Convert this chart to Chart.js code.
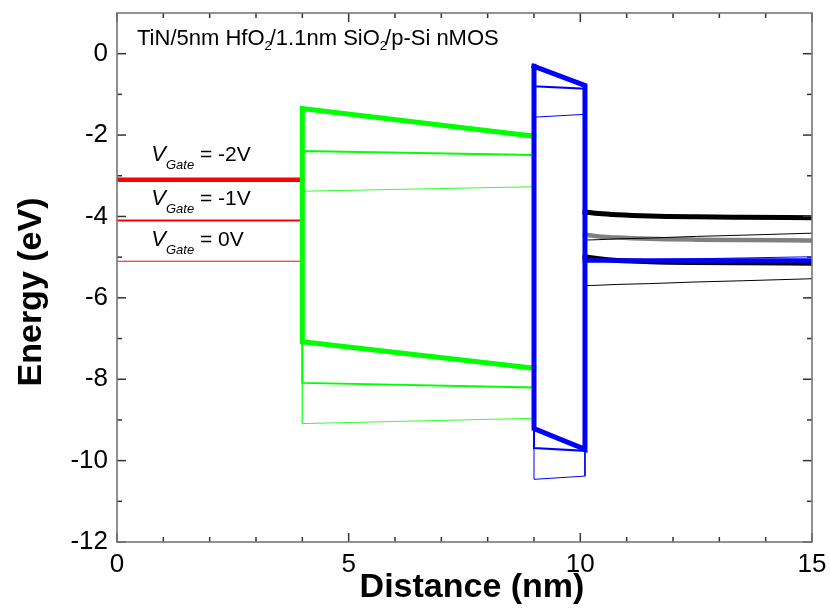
<!DOCTYPE html>
<html>
<head>
<meta charset="utf-8">
<script src="https://cdn.jsdelivr.net/npm/chart.js@4.4.1/dist/chart.umd.min.js"></script>
<style>
  html, body { margin: 0; padding: 0; background: #fff; }
  #wrap { width: 830px; height: 613px; position: relative; }
</style>
</head>
<body>
<div id="wrap"><canvas id="c" width="830" height="613"></canvas></div>
<script>
// Gate bias cases (thick = -2 V, medium = -1 V, thin = 0 V)
const gateLabels = ['-2V', '-1V', '0V'];

// TiN gate: Fermi level (eV), 0-4 nm
const gateX = [0, 4];
const gateFermi = [-3.1, -4.1, -5.1];

// HfO2 (4-9 nm): band edges at the two interfaces (eV)
const hfo2X = [4, 9];
const hfo2CbLeft  = [-1.35, -2.39, -3.38];
const hfo2CbRight = [-2.03, -2.49, -3.27];
const hfo2VbLeft  = [-7.08, -8.09, -9.09];
const hfo2VbRight = [-7.73, -8.20, -8.96];

// SiO2 interlayer (9-10.1 nm)
const sio2X = [9, 10.1];
const sio2CbLeft  = [-0.31, -0.80, -1.56];
const sio2CbRight = [-0.78, -0.86, -1.49];
const sio2VbLeft  = [-9.21, -9.69, -10.46];
const sio2VbRight = [-9.72, -9.76, -10.38];

// p-Si substrate (10.1-15 nm)
const siX = [10.1, 10.4, 10.8, 11.5, 12.5, 13.5, 15];
const siEcAcc = [-3.89, -3.93, -3.96, -3.99, -4.01, -4.02, -4.03];
const siEiAcc = [-4.45, -4.49, -4.52, -4.55, -4.57, -4.58, -4.59];
const siEvAcc = [-4.99, -5.04, -5.08, -5.11, -5.13, -5.14, -5.15];
const siEcZero = [-4.58, -4.57, -4.55, -4.53, -4.49, -4.46, -4.41];
const siEvZero = [-5.70, -5.69, -5.67, -5.65, -5.61, -5.58, -5.53];
const siFermi = [-5.08, -5.08, -5.08, -5.08, -5.08, -5.08, -5.08];
const siFermiZero = [-5.08, -5.08, -5.07, -5.06, -5.04, -5.02, -4.99];

// Axis ticks
const xTicks = [0, 5, 10, 15];
const xMinorTicks = [1, 2, 3, 4, 6, 7, 8, 9, 11, 12, 13, 14];
const yTicks = [0, -2, -4, -6, -8, -10, -12];
const yMinorTicks = [-1, -3, -5, -7, -9, -11];

const widths = [5, 2, 1];
const FONT = "'Liberation Sans', Arial, sans-serif";

const pts = (xs, ys) => xs.map((x, i) => ({ x, y: ys[i] }));

function line(data, color, width, order, smooth) {
  return {
    data, borderColor: color, borderWidth: width, order,
    showLine: true, pointRadius: 0, pointHoverRadius: 0, fill: false,
    tension: 0, cubicInterpolationMode: smooth ? 'monotone' : 'default',
    borderJoinStyle: 'miter', borderCapStyle: 'square'
  };
}

const datasets = [];
gateLabels.forEach((_, i) => {
  const w = widths[i];
  // gate Fermi level
  datasets.push(line(pts(gateX, [gateFermi[i], gateFermi[i]]), '#ff0000', i === 0 ? 4.5 : w, 6 + i));
  // HfO2 conduction band -> left wall -> valence band
  datasets.push(line([
    { x: hfo2X[1], y: hfo2CbRight[i] },
    { x: hfo2X[0], y: hfo2CbLeft[i] },
    { x: hfo2X[0], y: hfo2VbLeft[i] },
    { x: hfo2X[1], y: hfo2VbRight[i] }
  ], i === 2 ? '#33ff33' : '#00ff00', w, 3 + i));
  // SiO2 closed barrier outline
  datasets.push(line([
    { x: sio2X[0], y: sio2CbLeft[i] },
    { x: sio2X[1], y: sio2CbRight[i] },
    { x: sio2X[1], y: sio2VbRight[i] },
    { x: sio2X[0], y: sio2VbLeft[i] },
    { x: sio2X[0], y: sio2CbLeft[i] }
  ], '#0000ff', w, i));
});
// silicon bands
datasets.push(line(pts(siX, siFermi), '#0000ff', 4.5, 0.5, true));
datasets.push(line(pts(siX, siFermiZero), '#0000ff', 1, 0.6, true));
datasets.push(line(pts(siX, siEcAcc), '#000000', 5, 1.5, true));
datasets.push(line(pts(siX, siEvAcc), '#000000', 5, 1.5, true));
datasets.push(line(pts(siX, siEiAcc), '#808080', 4.5, 1.7, true));
datasets.push(line(pts(siX, siEcZero), '#000000', 1, 1.6, true));
datasets.push(line(pts(siX, siEvZero), '#000000', 1, 1.6, true));

// box frame with inward major/minor ticks on all four sides
const framePlugin = {
  id: 'frame',
  afterDatasetsDraw(chart) {
    const { ctx, chartArea: a, scales: { x, y } } = chart;
    ctx.save();
    ctx.strokeStyle = '#333';
    ctx.lineWidth = 1.5;
    const seg = (x1, y1, x2, y2) => { ctx.beginPath(); ctx.moveTo(x1, y1); ctx.lineTo(x2, y2); ctx.stroke(); };
    const xt = (v, len) => { const p = x.getPixelForValue(v); seg(p, a.bottom, p, a.bottom - len); seg(p, a.top, p, a.top + len); };
    const yt = (v, len) => { const p = y.getPixelForValue(v); seg(a.left, p, a.left + len, p); seg(a.right, p, a.right - len, p); };
    xTicks.forEach(v => xt(v, 9));
    xMinorTicks.forEach(v => xt(v, 5));
    yTicks.forEach(v => yt(v, 9));
    yMinorTicks.forEach(v => yt(v, 5));
    ctx.strokeStyle = '#777';
    ctx.lineWidth = 1.6;
    ctx.strokeRect(a.left, a.top, a.right - a.left, a.bottom - a.top);
    ctx.restore();
  }
};

// text runs with subscripts
function drawRuns(ctx, x, y, runs) {
  let cx = x;
  runs.forEach(r => {
    ctx.font = r.font;
    ctx.fillText(r.t, cx, y + (r.dy || 0));
    cx += ctx.measureText(r.t).width + (r.kern || 0);
  });
}

const textPlugin = {
  id: 'texts',
  afterDraw(chart) {
    const { ctx, scales: { x, y } } = chart;
    ctx.save();
    ctx.fillStyle = '#000';
    ctx.textBaseline = 'alphabetic';
    ctx.textAlign = 'left';

    // structure caption
    const cap = `22px ${FONT}`, capSub = `13px ${FONT}`;
    drawRuns(ctx, 137, 45, [
      { t: 'TiN/5nm HfO', font: cap },
      { t: '2', font: capSub, dy: 5, kern: -2 },
      { t: '/1.1nm SiO', font: cap },
      { t: '2', font: capSub, dy: 5, kern: -2 },
      { t: '/p-Si nMOS', font: cap }
    ]);

    // gate bias labels above each gate Fermi level
    const labelY = [-2.63, -3.72, -4.72];
    gateLabels.forEach((lab, i) => {
      drawRuns(ctx, x.getPixelForValue(0.74), y.getPixelForValue(labelY[i]), [
        { t: 'V', font: `italic 22px ${FONT}`, kern: 0 },
        { t: 'Gate', font: `italic 13px ${FONT}`, dy: 8 },
        { t: ' = ' + lab, font: `21px ${FONT}` }
      ]);
    });

    // axis titles
    ctx.font = `bold 34px ${FONT}`;
    ctx.textAlign = 'center';
    ctx.fillText('Distance (nm)', 472, 597);
    ctx.translate(41, 292);
    ctx.rotate(-Math.PI / 2);
    ctx.fillText('Energy (eV)', 0, 0);
    ctx.restore();
  }
};

new Chart(document.getElementById('c'), {
  type: 'scatter',
  data: { datasets },
  options: {
    responsive: false,
    animation: false,
    events: [],
    layout: { padding: { top: 13, right: 18, left: 0, bottom: 0 } },
    plugins: { legend: { display: false }, tooltip: { enabled: false } },
    scales: {
      x: {
        type: 'linear', min: 0, max: 15,
        grid: { display: false, drawTicks: false },
        border: { display: false },
        afterBuildTicks: s => { s.ticks = xTicks.map(v => ({ value: v })); },
        afterFit: s => { s.height = 71; s.paddingLeft = 0; s.paddingRight = 0; },
        ticks: { font: { size: 26, family: FONT }, color: '#000', padding: 7, maxRotation: 0, autoSkip: false }
      },
      y: {
        type: 'linear', min: -12, max: 1,
        grid: { display: false, drawTicks: false },
        border: { display: false },
        afterBuildTicks: s => { s.ticks = yTicks.map(v => ({ value: v })); },
        afterFit: s => { s.width = 117; s.paddingTop = 0; s.paddingBottom = 0; },
        ticks: { font: { size: 26, family: FONT }, color: '#000', padding: 9, autoSkip: false }
      }
    }
  },
  plugins: [framePlugin, textPlugin]
});
</script>
</body>
</html>
